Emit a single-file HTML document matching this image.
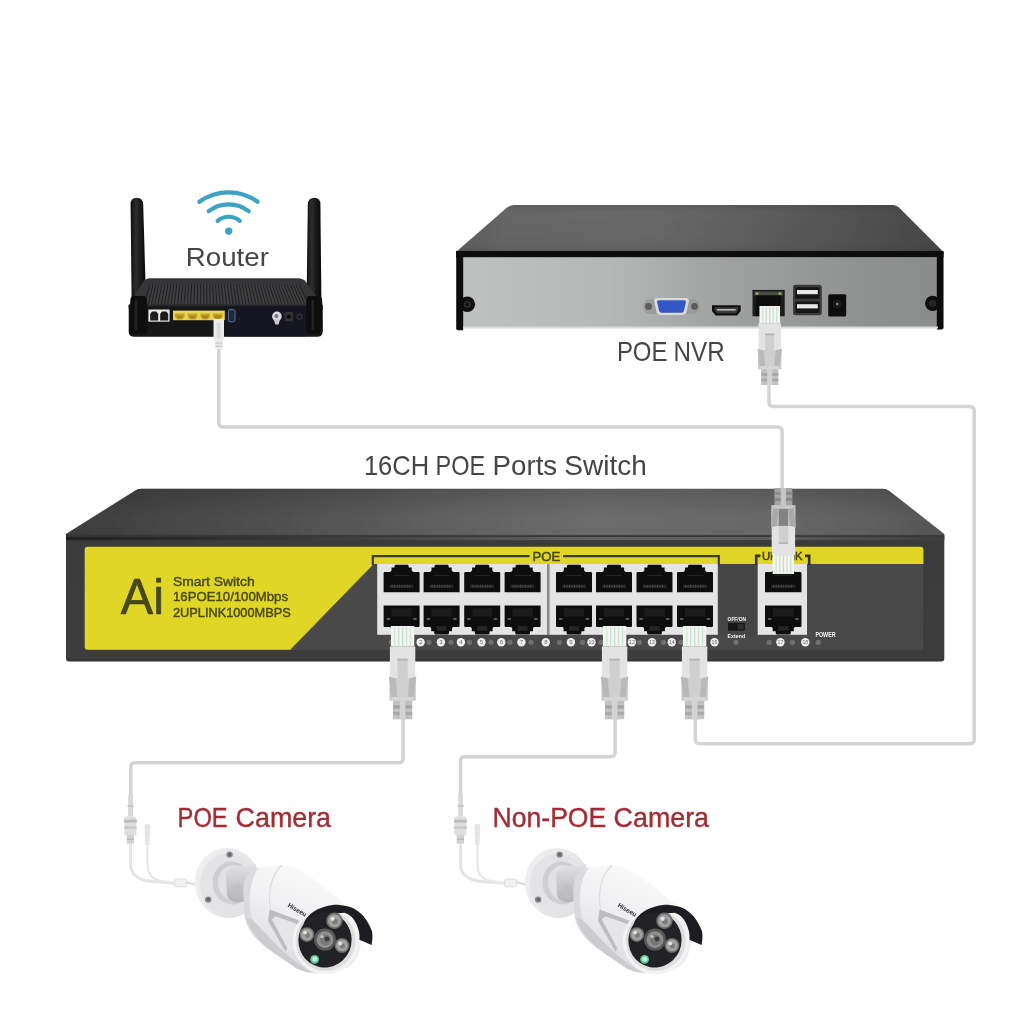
<!DOCTYPE html>
<html lang="en">
<head>
<meta charset="utf-8">
<title>16CH POE Ports Switch connection diagram</title>
<style>
html,body{margin:0;padding:0;background:#fff;}
body{width:1010px;height:1010px;overflow:hidden;}
svg{display:block;font-family:"Liberation Sans",sans-serif;}
</style>
</head>
<body>
<svg width="1010" height="1010" viewBox="0 0 1010 1010">
<defs>
<linearGradient id="gNvrTop" gradientUnits="userSpaceOnUse" x1="456" y1="0" x2="944" y2="0">
<stop offset="0" stop-color="#5c5c5c"/><stop offset="0.1" stop-color="#666666"/><stop offset="0.4" stop-color="#686868"/><stop offset="0.7" stop-color="#595959"/><stop offset="1" stop-color="#464646"/>
</linearGradient>
<linearGradient id="gNvrTopV" x1="0" y1="0" x2="0" y2="1">
<stop offset="0" stop-color="#000" stop-opacity="0.08"/><stop offset="0.15" stop-color="#000" stop-opacity="0"/><stop offset="0.8" stop-color="#000" stop-opacity="0.02"/><stop offset="1" stop-color="#000" stop-opacity="0.1"/>
</linearGradient>
<linearGradient id="gSwTopH" gradientUnits="userSpaceOnUse" x1="66" y1="0" x2="944" y2="0">
<stop offset="0" stop-color="#000" stop-opacity="0.44"/><stop offset="0.1" stop-color="#000" stop-opacity="0.36"/><stop offset="0.25" stop-color="#000" stop-opacity="0.26"/><stop offset="0.45" stop-color="#000" stop-opacity="0.1"/><stop offset="0.6" stop-color="#000" stop-opacity="0"/><stop offset="0.8" stop-color="#000" stop-opacity="0.04"/><stop offset="0.93" stop-color="#000" stop-opacity="0.14"/><stop offset="1" stop-color="#000" stop-opacity="0.22"/>
</linearGradient>
<linearGradient id="gNvrFront" x1="0" y1="0" x2="1" y2="0">
<stop offset="0" stop-color="#bfc1c1"/><stop offset="0.3" stop-color="#b6b8b8"/><stop offset="0.55" stop-color="#a0a2a2"/><stop offset="0.8" stop-color="#929494"/><stop offset="1" stop-color="#8a8c8c"/>
</linearGradient>
<linearGradient id="gSwTop" x1="0" y1="0" x2="0" y2="1">
<stop offset="0" stop-color="#5c5c5c"/><stop offset="0.3" stop-color="#656565"/><stop offset="0.6" stop-color="#6d6d6d"/><stop offset="0.94" stop-color="#6b6b6b"/><stop offset="1" stop-color="#5c5c5c"/>
</linearGradient>
<linearGradient id="gSwFront" x1="0" y1="0" x2="0" y2="1">
<stop offset="0" stop-color="#3a3a3a"/><stop offset="0.08" stop-color="#3b3b3b"/><stop offset="0.97" stop-color="#3c3c3c"/><stop offset="1" stop-color="#343434"/>
</linearGradient>
<linearGradient id="gAnt" x1="0" y1="0" x2="1" y2="0">
<stop offset="0" stop-color="#0e0e0e"/><stop offset="0.35" stop-color="#2e2e2e"/><stop offset="0.7" stop-color="#161616"/><stop offset="1" stop-color="#0a0a0a"/>
</linearGradient>
<linearGradient id="gPlate" x1="0" y1="0" x2="1" y2="1">
<stop offset="0" stop-color="#f1f1f3"/><stop offset="0.6" stop-color="#e6e6e8"/><stop offset="1" stop-color="#dadadc"/>
</linearGradient>
<linearGradient id="gNeck" x1="0" y1="0" x2="0" y2="1">
<stop offset="0" stop-color="#e3e3e5"/><stop offset="0.5" stop-color="#c9c9cc"/><stop offset="1" stop-color="#b5b5b8"/>
</linearGradient>
<linearGradient id="gBody" x1="0.7" y1="0" x2="0.2" y2="1">
<stop offset="0" stop-color="#fbfbfc"/><stop offset="0.45" stop-color="#f1f1f3"/><stop offset="0.8" stop-color="#e0e0e3"/><stop offset="1" stop-color="#cfcfd3"/>
</linearGradient>
<filter id="fSoft" filterUnits="userSpaceOnUse" x="0" y="0" width="1010" height="1010"><feGaussianBlur stdDeviation="0.5"/></filter>
</defs>
<rect x="0" y="0" width="1010" height="1010" fill="#ffffff"/>
<g filter="url(#fSoft)">

<g fill="none" stroke="#d4d4d4" stroke-width="3.5" stroke-linejoin="round">
<path d="M218.8,340 L218.8,422.6 Q218.8,427.1 223.3,427.1 L777.6,427.1 Q782.1,427.1 782.1,431.6 L782.1,492"/>
<path d="M769.0,380 L769.0,402.1 Q769.0,406.6 773.5,406.6 L969.7,406.6 Q974.2,406.6 974.2,411.1 L974.2,739.3 Q974.2,743.8 969.7,743.8 L699.8,743.8 Q695.3,743.8 695.3,739.3 L695.3,715"/>
<path d="M403.1,715 L403.1,758.3 Q403.1,762.8 398.6,762.8 L135.2,762.8 Q130.7,762.8 130.7,767.3 L130.7,798"/>
<path d="M615.1,715 L615.1,752.3 Q615.1,756.8 610.6,756.8 L465.0,756.8 Q460.5,756.8 460.5,761.3 L460.5,798"/>
</g>
<g>
<path d="M130.6,204.5 Q130.4,197.7 136.7,197.7 Q143,197.7 143.2,204.5 L146,300 H131.6 Z" fill="url(#gAnt)"/>
<path d="M320.4,204.5 Q320.6,197.7 314.3,197.7 Q308,197.7 307.8,204.5 L306.6,300 H321.4 Z" fill="url(#gAnt)"/>
<path d="M150,278.3 H298 Q303,278.3 306,282 L322.5,305.5 V309 H128.7 V305.5 L143,282 Q146,278.3 150,278.3 Z" fill="#363638"/>
<path d="M150,284.4 H299 L308,303.8 H145 Z" fill="#404042"/>
<path d="M150.0,284.4 L145.0,303.8" stroke="#232325" stroke-width="1.2" fill="none"/>
<path d="M153.0,284.4 L148.3,303.8" stroke="#232325" stroke-width="1.2" fill="none"/>
<path d="M156.0,284.4 L151.5,303.8" stroke="#232325" stroke-width="1.2" fill="none"/>
<path d="M158.9,284.4 L154.8,303.8" stroke="#232325" stroke-width="1.2" fill="none"/>
<path d="M161.9,284.4 L158.0,303.8" stroke="#232325" stroke-width="1.2" fill="none"/>
<path d="M164.9,284.4 L161.3,303.8" stroke="#232325" stroke-width="1.2" fill="none"/>
<path d="M167.9,284.4 L164.6,303.8" stroke="#232325" stroke-width="1.2" fill="none"/>
<path d="M170.9,284.4 L167.8,303.8" stroke="#232325" stroke-width="1.2" fill="none"/>
<path d="M173.8,284.4 L171.1,303.8" stroke="#232325" stroke-width="1.2" fill="none"/>
<path d="M176.8,284.4 L174.3,303.8" stroke="#232325" stroke-width="1.2" fill="none"/>
<path d="M179.8,284.4 L177.6,303.8" stroke="#232325" stroke-width="1.2" fill="none"/>
<path d="M182.8,284.4 L180.9,303.8" stroke="#232325" stroke-width="1.2" fill="none"/>
<path d="M185.8,284.4 L184.1,303.8" stroke="#232325" stroke-width="1.2" fill="none"/>
<path d="M188.7,284.4 L187.4,303.8" stroke="#232325" stroke-width="1.2" fill="none"/>
<path d="M191.7,284.4 L190.6,303.8" stroke="#232325" stroke-width="1.2" fill="none"/>
<path d="M194.7,284.4 L193.9,303.8" stroke="#232325" stroke-width="1.2" fill="none"/>
<path d="M197.7,284.4 L197.2,303.8" stroke="#232325" stroke-width="1.2" fill="none"/>
<path d="M200.7,284.4 L200.4,303.8" stroke="#232325" stroke-width="1.2" fill="none"/>
<path d="M203.6,284.4 L203.7,303.8" stroke="#232325" stroke-width="1.2" fill="none"/>
<path d="M206.6,284.4 L206.9,303.8" stroke="#232325" stroke-width="1.2" fill="none"/>
<path d="M209.6,284.4 L210.2,303.8" stroke="#232325" stroke-width="1.2" fill="none"/>
<path d="M212.6,284.4 L213.5,303.8" stroke="#232325" stroke-width="1.2" fill="none"/>
<path d="M215.6,284.4 L216.7,303.8" stroke="#232325" stroke-width="1.2" fill="none"/>
<path d="M218.5,284.4 L220.0,303.8" stroke="#232325" stroke-width="1.2" fill="none"/>
<path d="M221.5,284.4 L223.2,303.8" stroke="#232325" stroke-width="1.2" fill="none"/>
<path d="M224.5,284.4 L226.5,303.8" stroke="#232325" stroke-width="1.2" fill="none"/>
<path d="M227.5,284.4 L229.8,303.8" stroke="#232325" stroke-width="1.2" fill="none"/>
<path d="M230.5,284.4 L233.0,303.8" stroke="#232325" stroke-width="1.2" fill="none"/>
<path d="M233.4,284.4 L236.3,303.8" stroke="#232325" stroke-width="1.2" fill="none"/>
<path d="M236.4,284.4 L239.5,303.8" stroke="#232325" stroke-width="1.2" fill="none"/>
<path d="M239.4,284.4 L242.8,303.8" stroke="#232325" stroke-width="1.2" fill="none"/>
<path d="M242.4,284.4 L246.1,303.8" stroke="#232325" stroke-width="1.2" fill="none"/>
<path d="M245.4,284.4 L249.3,303.8" stroke="#232325" stroke-width="1.2" fill="none"/>
<path d="M248.3,284.4 L252.6,303.8" stroke="#232325" stroke-width="1.2" fill="none"/>
<path d="M251.3,284.4 L255.8,303.8" stroke="#232325" stroke-width="1.2" fill="none"/>
<path d="M254.3,284.4 L259.1,303.8" stroke="#232325" stroke-width="1.2" fill="none"/>
<path d="M257.3,284.4 L262.4,303.8" stroke="#232325" stroke-width="1.2" fill="none"/>
<path d="M260.3,284.4 L265.6,303.8" stroke="#232325" stroke-width="1.2" fill="none"/>
<path d="M263.2,284.4 L268.9,303.8" stroke="#232325" stroke-width="1.2" fill="none"/>
<path d="M266.2,284.4 L272.1,303.8" stroke="#232325" stroke-width="1.2" fill="none"/>
<path d="M269.2,284.4 L275.4,303.8" stroke="#232325" stroke-width="1.2" fill="none"/>
<path d="M272.2,284.4 L278.7,303.8" stroke="#232325" stroke-width="1.2" fill="none"/>
<path d="M275.2,284.4 L281.9,303.8" stroke="#232325" stroke-width="1.2" fill="none"/>
<path d="M278.1,284.4 L285.2,303.8" stroke="#232325" stroke-width="1.2" fill="none"/>
<path d="M281.1,284.4 L288.4,303.8" stroke="#232325" stroke-width="1.2" fill="none"/>
<path d="M284.1,284.4 L291.7,303.8" stroke="#232325" stroke-width="1.2" fill="none"/>
<path d="M287.1,284.4 L295.0,303.8" stroke="#232325" stroke-width="1.2" fill="none"/>
<path d="M290.1,284.4 L298.2,303.8" stroke="#232325" stroke-width="1.2" fill="none"/>
<path d="M293.0,284.4 L301.5,303.8" stroke="#232325" stroke-width="1.2" fill="none"/>
<path d="M296.0,284.4 L304.7,303.8" stroke="#232325" stroke-width="1.2" fill="none"/>
<path d="M299.0,284.4 L308.0,303.8" stroke="#232325" stroke-width="1.2" fill="none"/>
<path d="M128.7,305.5 H322.6 V331.6 Q322.6,336.8 317.6,336.8 H133.7 Q128.7,336.8 128.7,331.6 Z" fill="#151518"/>
<rect x="128.7" y="304.6" width="193.9" height="1.8" fill="#27272a"/>
<rect x="226" y="306.4" width="80" height="30" fill="#191920"/>
<path d="M130.4,300 Q130.4,296 134,296 H143.5 Q146.6,296 146.8,300 L147.4,330 Q147.4,333.4 144,333.4 H133 Q129.6,333.4 129.6,330 Z" fill="#0e0e0f"/>
<path d="M306.2,300 Q306.2,296 309.5,296 H318.6 Q322,296 322.2,300 L322.6,330 Q322.6,333.4 319.2,333.4 H309 Q305.8,333.4 305.8,330 Z" fill="#0e0e0f"/>
<rect x="134.6" y="300" width="2.6" height="30" fill="#232325"/><rect x="311.5" y="300" width="2.6" height="30" fill="#232325"/>
<rect x="148.4" y="309.5" width="21.2" height="12.2" fill="#e6e6e6"/>
<path d="M150.2,320.6 V314 L152,311.6 H156.4 L158.2,314 V320.6 Z" fill="#1a1a1a"/><path d="M160.2,320.6 V314 L162,311.6 H166.4 L168.2,314 V320.6 Z" fill="#1a1a1a"/>
<rect x="173" y="310.6" width="51.8" height="9.6" fill="#e9d354"/>
<path d="M175.0,313.6 H184.6 V317 L182.4,319.4 H177.2 L175.0,317 Z" fill="#c9a428"/>
<path d="M176.6,315.4 H183.0 V316.8 L181.6,318.4 H178.0 L176.6,316.8 Z" fill="#a8861e"/>
<path d="M187.7,313.6 H197.29999999999998 V317 L195.1,319.4 H189.89999999999998 L187.7,317 Z" fill="#c9a428"/>
<path d="M189.29999999999998,315.4 H195.7 V316.8 L194.29999999999998,318.4 H190.7 L189.29999999999998,316.8 Z" fill="#a8861e"/>
<path d="M200.4,313.6 H210.0 V317 L207.8,319.4 H202.6 L200.4,317 Z" fill="#c9a428"/>
<path d="M202.0,315.4 H208.4 V316.8 L207.0,318.4 H203.4 L202.0,316.8 Z" fill="#a8861e"/>
<path d="M213.1,313.6 H222.7 V317 L220.5,319.4 H215.29999999999998 L213.1,317 Z" fill="#c9a428"/>
<path d="M214.7,315.4 H221.1 V316.8 L219.7,318.4 H216.1 L214.7,316.8 Z" fill="#a8861e"/>
<rect x="228.4" y="309.6" width="6.6" height="12.2" rx="1.6" fill="#1b2a40" stroke="#5a7599" stroke-width="1"/>
<circle cx="239.5" cy="318.6" r="0.8" fill="#3a3a3e"/>
<circle cx="276.9" cy="316.4" r="4.8" fill="#dcdcdc"/><circle cx="276.4" cy="316" r="2" fill="#777"/>
<path d="M273.6,319.6 L275.4,324.6 H278.6 L280,319.6 Z" fill="#c9c9c9"/>
<rect x="284.6" y="312" width="8.4" height="9.2" rx="1" fill="#303033"/><circle cx="288.8" cy="316.6" r="2.2" fill="#0a0a0a"/>
<circle cx="299.5" cy="316.8" r="3.2" fill="#2e2e31"/><circle cx="299.5" cy="316.8" r="1.6" fill="#18181a"/>
<path d="M213.5,319 H224 V340 L222.6,342 V349.2 H215.2 V342 L213.5,340 Z" fill="#ebebeb"/>
<rect x="216.8" y="323" width="4" height="15" fill="#dcdcdc"/>
<rect x="215.2" y="342.4" width="7.4" height="1.3" fill="#cdcdcd"/><rect x="215.2" y="345.6" width="7.4" height="1.3" fill="#cdcdcd"/>
<g fill="none" stroke="#3ca3c2" stroke-width="4.2" stroke-linecap="round">
<path d="M199.4,201.8 A50,50 0 0 1 257.6,201.8"/>
<path d="M208.7,211.2 A32.4,32.4 0 0 1 248.7,211.2"/>
<path d="M217.6,220.8 A17.2,17.2 0 0 1 239.8,220.8"/>
</g><circle cx="228.7" cy="231.1" r="3.7" fill="#3ca3c2"/>
<text font-size="26.4" fill="#454545"><tspan x="185.8" y="266" textLength="83.1" lengthAdjust="spacingAndGlyphs">Router</tspan></text>
</g>
<g>
<path d="M514,205 H893 Q896.5,205 899,207.5 L943.5,252 V254 H456 V252 L507,207.5 Q510,205 514,205 Z" fill="url(#gNvrTop)"/>
<path d="M514,205 H893 Q896.5,205 899,207.5 L943.5,252 V254 H456 V252 L507,207.5 Q510,205 514,205 Z" fill="url(#gNvrTopV)"/>
<rect x="456" y="251" width="487.5" height="6.6" fill="#0d0d0d"/>
<rect x="463" y="257.4" width="475" height="70.6" fill="url(#gNvrFront)"/>
<path d="M456.2,252 H463.2 V330.3 H458.2 Q456.2,330.3 456.2,328.3 Z" fill="#0c0c0c"/>
<path d="M943.5,252 H936.8 V329.5 H941.5 Q943.5,329.5 943.5,327.5 Z" fill="#0c0c0c"/>
<rect x="463" y="326.5" width="475" height="2" fill="#d9dada"/>
<circle cx="467.3" cy="304.3" r="7.8" fill="#0f0f0f"/><circle cx="467.3" cy="304.3" r="3.6" fill="#2c2c2c"/><circle cx="467.3" cy="304.3" r="1.6" fill="#101010"/>
<circle cx="932.6" cy="303.3" r="7.6" fill="#0f0f0f"/><circle cx="932.6" cy="303.3" r="3.6" fill="#262626"/>
<g transform="translate(0,0.9)">
<rect x="643" y="298" width="57" height="15" rx="7.5" fill="#9a9c9c"/>
<circle cx="648.5" cy="305.5" r="3.4" fill="#5a5a5a"/><circle cx="694.5" cy="305.5" r="3.4" fill="#5a5a5a"/>
<path d="M657,297 H686 Q689.5,297 688.8,300.5 L686.5,311 Q685.8,314 682.5,314 H660.5 Q657.2,314 656.5,311 L654.2,300.5 Q653.5,297 657,297 Z" fill="#d8dadb"/>
<path d="M659,299.3 H684 Q686.3,299.3 685.8,301.6 L684,309.6 Q683.5,311.8 681.2,311.8 H661.8 Q659.5,311.8 659,309.6 L657.2,301.6 Q656.7,299.3 659,299.3 Z" fill="#3557c4"/>
</g>
<path d="M712,305.3 H740.7 V311 L737,315.6 H715.7 L712,311 Z" fill="#111"/>
<path d="M714.5,307.3 H738.2 V310 L735.8,313.3 H716.9 L714.5,310 Z" fill="#3a3a3a"/><rect x="717" y="309" width="18.7" height="1.6" fill="#b9b9b9"/>
<rect x="752.5" y="289.9" width="32.2" height="26.3" fill="#1b1b1b"/>
<rect x="754.3" y="291.5" width="28.6" height="4" fill="#4a4f3f"/><rect x="756" y="295.5" width="25" height="20.7" fill="#0a0a0a"/>
<circle cx="757" cy="293.5" r="1.5" fill="#9aa06a"/><circle cx="780" cy="293.5" r="1.5" fill="#9aa06a"/>
<rect x="793" y="284.7" width="28.8" height="30.6" rx="2.5" fill="#3b3b3b"/>
<rect x="795.3" y="287.2" width="24.2" height="11.5" rx="1" fill="#141414"/><rect x="795.3" y="301.4" width="24.2" height="11.5" rx="1" fill="#141414"/>
<rect x="797" y="290" width="20.8" height="4.2" fill="#e9e9e9"/><rect x="797" y="304.2" width="20.8" height="4.2" fill="#e9e9e9"/>
<rect x="828.2" y="294.2" width="18" height="22.4" rx="1.5" fill="#111"/><circle cx="837.2" cy="304" r="4.2" fill="#1f1f1f"/><circle cx="837.2" cy="304" r="1.2" fill="#888"/>
<g><rect x="759.4" y="306.0" width="20.7" height="17.4" fill="#f4f5f3" /><rect x="762.0" y="307.0" width="1.4" height="16.4" fill="#cfe9d2" /><rect x="765.5" y="307.0" width="1.4" height="16.4" fill="#d9d9d9" /><rect x="769.0" y="307.0" width="1.4" height="16.4" fill="#bfe3c6" /><rect x="772.5" y="307.0" width="1.4" height="16.4" fill="#dcdcdc" /><rect x="776.0" y="307.0" width="1.4" height="16.4" fill="#c9e6cf" /><rect x="758.5" y="323.4" width="22.5" height="26.9" fill="#e3e3e3" /><rect x="758.0" y="350.2" width="23.4" height="19.0" fill="#cbcbcb" /><rect x="765.2" y="333.6" width="9.0" height="16.6" fill="#cfcfcf" /><rect x="765.2" y="350.2" width="9.0" height="15.8" fill="#cfcfcf" /><rect x="765.2" y="333.6" width="9.0" height="1.6" fill="#b4b4b4" /><polygon points="757.6,348.7 763.5,350.2 765.0,366.0 760.1,369.2" fill="#b9b9b9" /><polygon points="781.9,348.7 775.9,350.2 774.4,366.0 779.3,369.2" fill="#b9b9b9" /><rect x="760.1" y="366.0" width="19.1" height="3.2" fill="#d6d6d6" /><rect x="761.2" y="369.2" width="17.1" height="15.8" fill="#c2c2c2" /><rect x="761.4" y="373.1" width="16.9" height="2.8" fill="#a6a6a6" /><rect x="761.4" y="378.7" width="16.9" height="2.8" fill="#a9a9a9" /><rect x="767.2" y="369.2" width="5.0" height="15.8" fill="#d4d4d4" /></g>
<text font-size="27.4" fill="#454545"><tspan x="616.9" y="360.6" textLength="50.6" lengthAdjust="spacingAndGlyphs">POE</tspan> <tspan x="673.6" y="360.6" textLength="51.2" lengthAdjust="spacingAndGlyphs">NVR</tspan></text>
</g>
<text font-size="27.4" fill="#454545"><tspan x="363.9" y="475.2" textLength="65.3" lengthAdjust="spacingAndGlyphs">16CH</tspan> <tspan x="435.6" y="475.2" textLength="49.6" lengthAdjust="spacingAndGlyphs">POE</tspan> <tspan x="492.6" y="475.2" textLength="64.6" lengthAdjust="spacingAndGlyphs">Ports</tspan> <tspan x="564.3" y="475.2" textLength="82.6" lengthAdjust="spacingAndGlyphs">Switch</tspan></text>
<g>
<path d="M141,488.7 H883 Q886.6,488.7 889.5,491 L944.3,534 V536.4 H66 V534 L134.5,491 Q137.5,488.7 141,488.7 Z" fill="url(#gSwTop)"/>
<path d="M141,488.7 H883 Q886.6,488.7 889.5,491 L944.3,534 V536.4 H66 V534 L134.5,491 Q137.5,488.7 141,488.7 Z" fill="url(#gSwTopH)"/>
<path d="M66,535.8 H944.3 V658.5 Q944.3,661.5 941.3,661.5 H69 Q66,661.5 66,658.5 Z" fill="url(#gSwFront)"/>
<rect x="66" y="535.4" width="878.3" height="1.3" fill="#343434"/>
<rect x="66" y="536.9" width="878.3" height="3.2" fill="#636363"/>
<rect x="66" y="536.9" width="878.3" height="3.2" fill="url(#gSwTopH)"/>
<rect x="66" y="536.9" width="878.3" height="3.2" fill="url(#gSwTopH)"/>
<path d="M84.7,546.7 H920.4 Q923.4,546.7 923.4,549.7 V647 Q923.4,650 920.4,650 H87.7 Q84.7,650 84.7,647 Z" fill="#494949"/>
<path d="M87.7,546.7 H920.4 Q923.4,546.7 923.4,549.7 V564 H374 L290.6,649.7 H87.7 Q84.7,649.7 84.7,646.7 V549.7 Q84.7,546.7 87.7,546.7 Z" fill="#e0d625"/>
<rect x="719.5" y="564" width="37" height="71" fill="#454545"/>
<path d="M290.6,649.7 L374,564" fill="none" stroke="#6b6a1c" stroke-width="1"/><path d="M372.8,565 V556.2 H529.5 M563,556.2 H718.8 V565" fill="none" stroke="#3f3e16" stroke-width="2.2"/>
<text x="532.6" y="560.7" font-size="12.8" fill="#47461a" stroke="#47461a" stroke-width="0.5" textLength="27.8" lengthAdjust="spacingAndGlyphs">POE</text>
<path d="M756.2,565 V555.9 H760.4 M805,555.9 H809.2 V565" fill="none" stroke="#34330f" stroke-width="2.6"/>
<text x="762" y="560.2" font-size="10" fill="#3f3e14" stroke="#3f3e14" stroke-width="0.4" textLength="40.6" lengthAdjust="spacingAndGlyphs">UPLINK</text>
<rect x="377.2" y="564" width="170" height="70.8" fill="#e4e4e5"/>
<rect x="549.2" y="564" width="168.6" height="70.8" fill="#e4e4e5"/>
<rect x="547.1" y="564" width="2.2" height="70.8" fill="#8e8e8e"/>
<rect x="757.7" y="564" width="49.3" height="70.8" fill="#e4e4e5"/>
<path d="M383.6,572.7 L384.4,571.9 H390.0 L391.5,570.4 V567.6 H394.5 V565.7 L395.5,564.7 H407.7 L408.7,565.7 V567.6 H411.7 V570.4 L413.2,571.9 H418.8 L419.6,572.7 V592.3 H383.6 Z" fill="#0d0d0d"/><rect x="389.6" y="584.7" width="24.0" height="3.2" fill="#262626"/><rect x="391.6" y="585.1" width="1" height="2.6" fill="#4c4c4c"/><rect x="394.1" y="585.1" width="1" height="2.6" fill="#4c4c4c"/><rect x="396.6" y="585.1" width="1" height="2.6" fill="#4c4c4c"/><rect x="399.1" y="585.1" width="1" height="2.6" fill="#4c4c4c"/><rect x="401.6" y="585.1" width="1" height="2.6" fill="#4c4c4c"/><rect x="404.1" y="585.1" width="1" height="2.6" fill="#4c4c4c"/><rect x="406.6" y="585.1" width="1" height="2.6" fill="#4c4c4c"/><rect x="409.1" y="585.1" width="1" height="2.6" fill="#4c4c4c"/><rect x="393.6" y="574.9" width="16.0" height="1.2" fill="#242424"/>
<path d="M383.6,605.5 H419.6 V626.3 L418.8,627.1 H413.0 L412.0,628.3 V631.2 H409.0 V633.5 L408.0,634.5 H395.2 L394.2,633.5 V631.2 H391.2 V628.3 L390.2,627.1 H384.4 L383.6,626.3 Z" fill="#0f0f0f"/><rect x="391.6" y="608.5" width="20.0" height="8" fill="#1c1c1c"/><rect x="396.6" y="626.1" width="10" height="4.6" fill="#262626"/><rect x="386.6" y="618.1" width="3.4" height="1.8" fill="#5e5e5e"/><rect x="413.2" y="618.1" width="3.4" height="1.8" fill="#5e5e5e"/>
<path d="M423.6,572.7 L424.4,571.9 H430.0 L431.5,570.4 V567.6 H434.5 V565.7 L435.5,564.7 H447.7 L448.7,565.7 V567.6 H451.7 V570.4 L453.2,571.9 H458.8 L459.6,572.7 V592.3 H423.6 Z" fill="#0d0d0d"/><rect x="429.6" y="584.7" width="24.0" height="3.2" fill="#262626"/><rect x="431.6" y="585.1" width="1" height="2.6" fill="#4c4c4c"/><rect x="434.1" y="585.1" width="1" height="2.6" fill="#4c4c4c"/><rect x="436.6" y="585.1" width="1" height="2.6" fill="#4c4c4c"/><rect x="439.1" y="585.1" width="1" height="2.6" fill="#4c4c4c"/><rect x="441.6" y="585.1" width="1" height="2.6" fill="#4c4c4c"/><rect x="444.1" y="585.1" width="1" height="2.6" fill="#4c4c4c"/><rect x="446.6" y="585.1" width="1" height="2.6" fill="#4c4c4c"/><rect x="449.1" y="585.1" width="1" height="2.6" fill="#4c4c4c"/><rect x="433.6" y="574.9" width="16.0" height="1.2" fill="#242424"/>
<path d="M423.6,605.5 H459.6 V626.3 L458.8,627.1 H453.0 L452.0,628.3 V631.2 H449.0 V633.5 L448.0,634.5 H435.2 L434.2,633.5 V631.2 H431.2 V628.3 L430.2,627.1 H424.4 L423.6,626.3 Z" fill="#0f0f0f"/><rect x="431.6" y="608.5" width="20.0" height="8" fill="#1c1c1c"/><rect x="436.6" y="626.1" width="10" height="4.6" fill="#262626"/><rect x="426.6" y="618.1" width="3.4" height="1.8" fill="#5e5e5e"/><rect x="453.2" y="618.1" width="3.4" height="1.8" fill="#5e5e5e"/>
<path d="M464.2,572.7 L465.0,571.9 H470.6 L472.1,570.4 V567.6 H475.1 V565.7 L476.1,564.7 H488.3 L489.3,565.7 V567.6 H492.3 V570.4 L493.8,571.9 H499.4 L500.2,572.7 V592.3 H464.2 Z" fill="#0d0d0d"/><rect x="470.2" y="584.7" width="24.0" height="3.2" fill="#262626"/><rect x="472.2" y="585.1" width="1" height="2.6" fill="#4c4c4c"/><rect x="474.7" y="585.1" width="1" height="2.6" fill="#4c4c4c"/><rect x="477.2" y="585.1" width="1" height="2.6" fill="#4c4c4c"/><rect x="479.7" y="585.1" width="1" height="2.6" fill="#4c4c4c"/><rect x="482.2" y="585.1" width="1" height="2.6" fill="#4c4c4c"/><rect x="484.7" y="585.1" width="1" height="2.6" fill="#4c4c4c"/><rect x="487.2" y="585.1" width="1" height="2.6" fill="#4c4c4c"/><rect x="489.7" y="585.1" width="1" height="2.6" fill="#4c4c4c"/><rect x="474.2" y="574.9" width="16.0" height="1.2" fill="#242424"/>
<path d="M464.2,605.5 H500.2 V626.3 L499.4,627.1 H493.6 L492.6,628.3 V631.2 H489.6 V633.5 L488.6,634.5 H475.8 L474.8,633.5 V631.2 H471.8 V628.3 L470.8,627.1 H465.0 L464.2,626.3 Z" fill="#0f0f0f"/><rect x="472.2" y="608.5" width="20.0" height="8" fill="#1c1c1c"/><rect x="477.2" y="626.1" width="10" height="4.6" fill="#262626"/><rect x="467.2" y="618.1" width="3.4" height="1.8" fill="#5e5e5e"/><rect x="493.8" y="618.1" width="3.4" height="1.8" fill="#5e5e5e"/>
<path d="M504.6,572.7 L505.4,571.9 H511.0 L512.5,570.4 V567.6 H515.5 V565.7 L516.5,564.7 H528.7 L529.7,565.7 V567.6 H532.7 V570.4 L534.2,571.9 H539.8 L540.6,572.7 V592.3 H504.6 Z" fill="#0d0d0d"/><rect x="510.6" y="584.7" width="24.0" height="3.2" fill="#262626"/><rect x="512.6" y="585.1" width="1" height="2.6" fill="#4c4c4c"/><rect x="515.1" y="585.1" width="1" height="2.6" fill="#4c4c4c"/><rect x="517.6" y="585.1" width="1" height="2.6" fill="#4c4c4c"/><rect x="520.1" y="585.1" width="1" height="2.6" fill="#4c4c4c"/><rect x="522.6" y="585.1" width="1" height="2.6" fill="#4c4c4c"/><rect x="525.1" y="585.1" width="1" height="2.6" fill="#4c4c4c"/><rect x="527.6" y="585.1" width="1" height="2.6" fill="#4c4c4c"/><rect x="530.1" y="585.1" width="1" height="2.6" fill="#4c4c4c"/><rect x="514.6" y="574.9" width="16.0" height="1.2" fill="#242424"/>
<path d="M504.6,605.5 H540.6 V626.3 L539.8,627.1 H534.0 L533.0,628.3 V631.2 H530.0 V633.5 L529.0,634.5 H516.2 L515.2,633.5 V631.2 H512.2 V628.3 L511.2,627.1 H505.4 L504.6,626.3 Z" fill="#0f0f0f"/><rect x="512.6" y="608.5" width="20.0" height="8" fill="#1c1c1c"/><rect x="517.6" y="626.1" width="10" height="4.6" fill="#262626"/><rect x="507.6" y="618.1" width="3.4" height="1.8" fill="#5e5e5e"/><rect x="534.2" y="618.1" width="3.4" height="1.8" fill="#5e5e5e"/>
<path d="M556.0,572.7 L556.8,571.9 H562.4 L563.9,570.4 V567.6 H566.9 V565.7 L567.9,564.7 H580.1 L581.1,565.7 V567.6 H584.1 V570.4 L585.6,571.9 H591.2 L592.0,572.7 V592.3 H556.0 Z" fill="#0d0d0d"/><rect x="562.0" y="584.7" width="24.0" height="3.2" fill="#262626"/><rect x="564.0" y="585.1" width="1" height="2.6" fill="#4c4c4c"/><rect x="566.5" y="585.1" width="1" height="2.6" fill="#4c4c4c"/><rect x="569.0" y="585.1" width="1" height="2.6" fill="#4c4c4c"/><rect x="571.5" y="585.1" width="1" height="2.6" fill="#4c4c4c"/><rect x="574.0" y="585.1" width="1" height="2.6" fill="#4c4c4c"/><rect x="576.5" y="585.1" width="1" height="2.6" fill="#4c4c4c"/><rect x="579.0" y="585.1" width="1" height="2.6" fill="#4c4c4c"/><rect x="581.5" y="585.1" width="1" height="2.6" fill="#4c4c4c"/><rect x="566.0" y="574.9" width="16.0" height="1.2" fill="#242424"/>
<path d="M556.0,605.5 H592.0 V626.3 L591.2,627.1 H585.4 L584.4,628.3 V631.2 H581.4 V633.5 L580.4,634.5 H567.6 L566.6,633.5 V631.2 H563.6 V628.3 L562.6,627.1 H556.8 L556.0,626.3 Z" fill="#0f0f0f"/><rect x="564.0" y="608.5" width="20.0" height="8" fill="#1c1c1c"/><rect x="569.0" y="626.1" width="10" height="4.6" fill="#262626"/><rect x="559.0" y="618.1" width="3.4" height="1.8" fill="#5e5e5e"/><rect x="585.6" y="618.1" width="3.4" height="1.8" fill="#5e5e5e"/>
<path d="M596.0,572.7 L596.8,571.9 H602.4 L603.9,570.4 V567.6 H606.9 V565.7 L607.9,564.7 H620.1 L621.1,565.7 V567.6 H624.1 V570.4 L625.6,571.9 H631.2 L632.0,572.7 V592.3 H596.0 Z" fill="#0d0d0d"/><rect x="602.0" y="584.7" width="24.0" height="3.2" fill="#262626"/><rect x="604.0" y="585.1" width="1" height="2.6" fill="#4c4c4c"/><rect x="606.5" y="585.1" width="1" height="2.6" fill="#4c4c4c"/><rect x="609.0" y="585.1" width="1" height="2.6" fill="#4c4c4c"/><rect x="611.5" y="585.1" width="1" height="2.6" fill="#4c4c4c"/><rect x="614.0" y="585.1" width="1" height="2.6" fill="#4c4c4c"/><rect x="616.5" y="585.1" width="1" height="2.6" fill="#4c4c4c"/><rect x="619.0" y="585.1" width="1" height="2.6" fill="#4c4c4c"/><rect x="621.5" y="585.1" width="1" height="2.6" fill="#4c4c4c"/><rect x="606.0" y="574.9" width="16.0" height="1.2" fill="#242424"/>
<path d="M596.0,605.5 H632.0 V626.3 L631.2,627.1 H625.4 L624.4,628.3 V631.2 H621.4 V633.5 L620.4,634.5 H607.6 L606.6,633.5 V631.2 H603.6 V628.3 L602.6,627.1 H596.8 L596.0,626.3 Z" fill="#0f0f0f"/><rect x="604.0" y="608.5" width="20.0" height="8" fill="#1c1c1c"/><rect x="609.0" y="626.1" width="10" height="4.6" fill="#262626"/><rect x="599.0" y="618.1" width="3.4" height="1.8" fill="#5e5e5e"/><rect x="625.6" y="618.1" width="3.4" height="1.8" fill="#5e5e5e"/>
<path d="M636.5,572.7 L637.3,571.9 H642.9 L644.4,570.4 V567.6 H647.4 V565.7 L648.4,564.7 H660.6 L661.6,565.7 V567.6 H664.6 V570.4 L666.1,571.9 H671.7 L672.5,572.7 V592.3 H636.5 Z" fill="#0d0d0d"/><rect x="642.5" y="584.7" width="24.0" height="3.2" fill="#262626"/><rect x="644.5" y="585.1" width="1" height="2.6" fill="#4c4c4c"/><rect x="647.0" y="585.1" width="1" height="2.6" fill="#4c4c4c"/><rect x="649.5" y="585.1" width="1" height="2.6" fill="#4c4c4c"/><rect x="652.0" y="585.1" width="1" height="2.6" fill="#4c4c4c"/><rect x="654.5" y="585.1" width="1" height="2.6" fill="#4c4c4c"/><rect x="657.0" y="585.1" width="1" height="2.6" fill="#4c4c4c"/><rect x="659.5" y="585.1" width="1" height="2.6" fill="#4c4c4c"/><rect x="662.0" y="585.1" width="1" height="2.6" fill="#4c4c4c"/><rect x="646.5" y="574.9" width="16.0" height="1.2" fill="#242424"/>
<path d="M636.5,605.5 H672.5 V626.3 L671.7,627.1 H665.9 L664.9,628.3 V631.2 H661.9 V633.5 L660.9,634.5 H648.1 L647.1,633.5 V631.2 H644.1 V628.3 L643.1,627.1 H637.3 L636.5,626.3 Z" fill="#0f0f0f"/><rect x="644.5" y="608.5" width="20.0" height="8" fill="#1c1c1c"/><rect x="649.5" y="626.1" width="10" height="4.6" fill="#262626"/><rect x="639.5" y="618.1" width="3.4" height="1.8" fill="#5e5e5e"/><rect x="666.1" y="618.1" width="3.4" height="1.8" fill="#5e5e5e"/>
<path d="M677.0,572.7 L677.8,571.9 H683.4 L684.9,570.4 V567.6 H687.9 V565.7 L688.9,564.7 H701.1 L702.1,565.7 V567.6 H705.1 V570.4 L706.6,571.9 H712.2 L713.0,572.7 V592.3 H677.0 Z" fill="#0d0d0d"/><rect x="683.0" y="584.7" width="24.0" height="3.2" fill="#262626"/><rect x="685.0" y="585.1" width="1" height="2.6" fill="#4c4c4c"/><rect x="687.5" y="585.1" width="1" height="2.6" fill="#4c4c4c"/><rect x="690.0" y="585.1" width="1" height="2.6" fill="#4c4c4c"/><rect x="692.5" y="585.1" width="1" height="2.6" fill="#4c4c4c"/><rect x="695.0" y="585.1" width="1" height="2.6" fill="#4c4c4c"/><rect x="697.5" y="585.1" width="1" height="2.6" fill="#4c4c4c"/><rect x="700.0" y="585.1" width="1" height="2.6" fill="#4c4c4c"/><rect x="702.5" y="585.1" width="1" height="2.6" fill="#4c4c4c"/><rect x="687.0" y="574.9" width="16.0" height="1.2" fill="#242424"/>
<path d="M677.0,605.5 H713.0 V626.3 L712.2,627.1 H706.4 L705.4,628.3 V631.2 H702.4 V633.5 L701.4,634.5 H688.6 L687.6,633.5 V631.2 H684.6 V628.3 L683.6,627.1 H677.8 L677.0,626.3 Z" fill="#0f0f0f"/><rect x="685.0" y="608.5" width="20.0" height="8" fill="#1c1c1c"/><rect x="690.0" y="626.1" width="10" height="4.6" fill="#262626"/><rect x="680.0" y="618.1" width="3.4" height="1.8" fill="#5e5e5e"/><rect x="706.6" y="618.1" width="3.4" height="1.8" fill="#5e5e5e"/>
<path d="M765.0,572.7 L765.8,571.9 H771.5 L773.0,570.4 V567.6 H776.0 V565.7 L777.0,564.7 H789.5 L790.5,565.7 V567.6 H793.5 V570.4 L795.0,571.9 H800.7 L801.5,572.7 V592.3 H765.0 Z" fill="#0d0d0d"/><rect x="771.0" y="584.7" width="24.5" height="3.2" fill="#262626"/><rect x="773.0" y="585.1" width="1" height="2.6" fill="#4c4c4c"/><rect x="775.6" y="585.1" width="1" height="2.6" fill="#4c4c4c"/><rect x="778.1" y="585.1" width="1" height="2.6" fill="#4c4c4c"/><rect x="780.7" y="585.1" width="1" height="2.6" fill="#4c4c4c"/><rect x="783.2" y="585.1" width="1" height="2.6" fill="#4c4c4c"/><rect x="785.8" y="585.1" width="1" height="2.6" fill="#4c4c4c"/><rect x="788.4" y="585.1" width="1" height="2.6" fill="#4c4c4c"/><rect x="790.9" y="585.1" width="1" height="2.6" fill="#4c4c4c"/><rect x="775.0" y="574.9" width="16.5" height="1.2" fill="#242424"/>
<path d="M765.0,605.5 H801.5 V626.3 L800.7,627.1 H794.8 L793.8,628.3 V631.2 H790.8 V633.5 L789.8,634.5 H776.7 L775.7,633.5 V631.2 H772.7 V628.3 L771.7,627.1 H765.8 L765.0,626.3 Z" fill="#0f0f0f"/><rect x="773.0" y="608.5" width="20.5" height="8" fill="#1c1c1c"/><rect x="778.2" y="626.1" width="10" height="4.6" fill="#262626"/><rect x="768.0" y="618.1" width="3.4" height="1.8" fill="#5e5e5e"/><rect x="795.1" y="618.1" width="3.4" height="1.8" fill="#5e5e5e"/>
<circle cx="400.4" cy="642.3" r="4.2" fill="#efefef"/>
<text x="400.4" y="644.4" font-size="6" fill="#6a6a6a" text-anchor="middle">1</text>
<circle cx="420.6" cy="642.3" r="4.2" fill="#efefef"/>
<text x="420.6" y="644.4" font-size="6" fill="#6a6a6a" text-anchor="middle">2</text>
<circle cx="440.9" cy="642.3" r="4.2" fill="#efefef"/>
<text x="440.9" y="644.4" font-size="6" fill="#6a6a6a" text-anchor="middle">3</text>
<circle cx="460.9" cy="642.3" r="4.2" fill="#efefef"/>
<text x="460.9" y="644.4" font-size="6" fill="#6a6a6a" text-anchor="middle">4</text>
<circle cx="481.5" cy="642.3" r="4.2" fill="#efefef"/>
<text x="481.5" y="644.4" font-size="6" fill="#6a6a6a" text-anchor="middle">5</text>
<circle cx="501.3" cy="642.3" r="4.2" fill="#efefef"/>
<text x="501.3" y="644.4" font-size="6" fill="#6a6a6a" text-anchor="middle">6</text>
<circle cx="521.4" cy="642.3" r="4.2" fill="#efefef"/>
<text x="521.4" y="644.4" font-size="6" fill="#6a6a6a" text-anchor="middle">7</text>
<circle cx="545.8" cy="642.3" r="4.2" fill="#efefef"/>
<text x="545.8" y="644.4" font-size="6" fill="#6a6a6a" text-anchor="middle">8</text>
<circle cx="570.9" cy="642.3" r="4.2" fill="#efefef"/>
<text x="570.9" y="644.4" font-size="6" fill="#6a6a6a" text-anchor="middle">9</text>
<circle cx="591.5" cy="642.3" r="4.2" fill="#efefef"/>
<text x="591.5" y="644.4" font-size="5.2" fill="#6a6a6a" text-anchor="middle">10</text>
<circle cx="611.7" cy="642.3" r="4.2" fill="#efefef"/>
<text x="611.7" y="644.4" font-size="5.2" fill="#6a6a6a" text-anchor="middle">11</text>
<circle cx="631.9" cy="642.3" r="4.2" fill="#efefef"/>
<text x="631.9" y="644.4" font-size="5.2" fill="#6a6a6a" text-anchor="middle">12</text>
<circle cx="652" cy="642.3" r="4.2" fill="#efefef"/>
<text x="652" y="644.4" font-size="5.2" fill="#6a6a6a" text-anchor="middle">13</text>
<circle cx="671.8" cy="642.3" r="4.2" fill="#efefef"/>
<text x="671.8" y="644.4" font-size="5.2" fill="#6a6a6a" text-anchor="middle">14</text>
<circle cx="692.5" cy="642.3" r="4.2" fill="#efefef"/>
<text x="692.5" y="644.4" font-size="5.2" fill="#6a6a6a" text-anchor="middle">15</text>
<circle cx="714.5" cy="642.3" r="4.2" fill="#efefef"/>
<text x="714.5" y="644.4" font-size="5.2" fill="#6a6a6a" text-anchor="middle">16</text>
<circle cx="780.4" cy="642.3" r="4.2" fill="#efefef"/>
<text x="780.4" y="644.4" font-size="5.2" fill="#6a6a6a" text-anchor="middle">17</text>
<circle cx="805.3" cy="642.3" r="4.2" fill="#efefef"/>
<text x="805.3" y="644.4" font-size="5.2" fill="#6a6a6a" text-anchor="middle">18</text>
<circle cx="391.5" cy="642.3" r="2.6" fill="#707070"/>
<circle cx="429" cy="642.3" r="2.6" fill="#707070"/>
<circle cx="451" cy="642.3" r="2.6" fill="#707070"/>
<circle cx="469.5" cy="642.3" r="2.6" fill="#707070"/>
<circle cx="491" cy="642.3" r="2.6" fill="#707070"/>
<circle cx="510" cy="642.3" r="2.6" fill="#707070"/>
<circle cx="531" cy="642.3" r="2.6" fill="#707070"/>
<circle cx="559.3" cy="642.3" r="2.6" fill="#707070"/>
<circle cx="582.5" cy="642.3" r="2.6" fill="#707070"/>
<circle cx="601" cy="642.3" r="2.6" fill="#707070"/>
<circle cx="622" cy="642.3" r="2.6" fill="#707070"/>
<circle cx="639.5" cy="642.3" r="2.6" fill="#707070"/>
<circle cx="663.5" cy="642.3" r="2.6" fill="#707070"/>
<circle cx="681" cy="642.3" r="2.6" fill="#707070"/>
<circle cx="703" cy="642.3" r="2.6" fill="#707070"/>
<circle cx="736" cy="642.3" r="2.6" fill="#707070"/>
<circle cx="769.3" cy="642.3" r="2.6" fill="#707070"/>
<circle cx="792.5" cy="642.3" r="2.6" fill="#707070"/>
<circle cx="818.2" cy="642.3" r="2.6" fill="#707070"/>
<text x="727.6" y="620.5" font-size="6.2" font-weight="bold" fill="#f4f4f4" textLength="18.4" lengthAdjust="spacingAndGlyphs">OFF/ON</text>
<rect x="728" y="623" width="16.8" height="7.6" fill="#151515"/><rect x="737.5" y="624" width="6" height="5.6" fill="#2e2e2e"/>
<text x="727.6" y="637.6" font-size="6.2" font-weight="bold" fill="#f4f4f4" textLength="17.6" lengthAdjust="spacingAndGlyphs">Extend</text>
<text x="815.4" y="637.1" font-size="6.3" font-weight="bold" fill="#f6f6f6" textLength="20.2" lengthAdjust="spacingAndGlyphs">POWER</text>
<text x="120.8" y="613.8" font-size="49.8" fill="#47461c" stroke="#47461c" stroke-width="0.7" textLength="43.2" lengthAdjust="spacingAndGlyphs">Ai</text>
<text x="173" y="586.4" font-size="13.3" fill="#4a491c" stroke="#4a491c" stroke-width="0.45" textLength="81.6" lengthAdjust="spacingAndGlyphs">Smart Switch</text>
<text x="173" y="601.4" font-size="13.3" fill="#4a491c" stroke="#4a491c" stroke-width="0.45" textLength="115" lengthAdjust="spacingAndGlyphs">16POE10/100Mbps</text>
<text x="173" y="616.6" font-size="13.3" fill="#4a491c" stroke="#4a491c" stroke-width="0.45" textLength="117.7" lengthAdjust="spacingAndGlyphs">2UPLINK1000MBPS</text>
<g><rect x="390.9" y="626.0" width="23.4" height="20.5" fill="#f4f5f3" /><rect x="394.0" y="627.0" width="1.4" height="19.5" fill="#cfe9d2" /><rect x="398.0" y="627.0" width="1.4" height="19.5" fill="#d9d9d9" /><rect x="401.9" y="627.0" width="1.4" height="19.5" fill="#bfe3c6" /><rect x="405.8" y="627.0" width="1.4" height="19.5" fill="#dcdcdc" /><rect x="409.8" y="627.0" width="1.4" height="19.5" fill="#c9e6cf" /><rect x="389.9" y="646.5" width="25.4" height="31.7" fill="#e3e3e3" /><rect x="389.4" y="678.2" width="26.4" height="22.4" fill="#cbcbcb" /><rect x="397.5" y="658.7" width="10.2" height="19.6" fill="#cfcfcf" /><rect x="397.5" y="678.2" width="10.2" height="18.7" fill="#cfcfcf" /><rect x="397.5" y="658.7" width="10.2" height="1.9" fill="#b4b4b4" /><polygon points="388.9,676.4 395.6,678.2 397.3,696.9 391.8,700.6" fill="#b9b9b9" /><polygon points="416.3,676.4 409.6,678.2 407.9,696.9 413.4,700.6" fill="#b9b9b9" /><rect x="391.8" y="696.9" width="21.6" height="3.7" fill="#d6d6d6" /><rect x="392.9" y="700.6" width="19.3" height="18.7" fill="#c2c2c2" /><rect x="393.2" y="705.3" width="19.0" height="3.3" fill="#a6a6a6" /><rect x="393.2" y="711.8" width="19.0" height="3.3" fill="#a9a9a9" /><rect x="399.8" y="700.6" width="5.6" height="18.7" fill="#d4d4d4" /></g>
<g><rect x="602.9" y="626.0" width="23.4" height="20.5" fill="#f4f5f3" /><rect x="606.0" y="627.0" width="1.4" height="19.5" fill="#cfe9d2" /><rect x="610.0" y="627.0" width="1.4" height="19.5" fill="#d9d9d9" /><rect x="613.9" y="627.0" width="1.4" height="19.5" fill="#bfe3c6" /><rect x="617.8" y="627.0" width="1.4" height="19.5" fill="#dcdcdc" /><rect x="621.8" y="627.0" width="1.4" height="19.5" fill="#c9e6cf" /><rect x="601.9" y="646.5" width="25.4" height="31.7" fill="#e3e3e3" /><rect x="601.4" y="678.2" width="26.4" height="22.4" fill="#cbcbcb" /><rect x="609.5" y="658.7" width="10.2" height="19.6" fill="#cfcfcf" /><rect x="609.5" y="678.2" width="10.2" height="18.7" fill="#cfcfcf" /><rect x="609.5" y="658.7" width="10.2" height="1.9" fill="#b4b4b4" /><polygon points="600.9,676.4 607.6,678.2 609.3,696.9 603.8,700.6" fill="#b9b9b9" /><polygon points="628.3,676.4 621.6,678.2 619.9,696.9 625.4,700.6" fill="#b9b9b9" /><rect x="603.8" y="696.9" width="21.6" height="3.7" fill="#d6d6d6" /><rect x="604.9" y="700.6" width="19.3" height="18.7" fill="#c2c2c2" /><rect x="605.2" y="705.3" width="19.0" height="3.3" fill="#a6a6a6" /><rect x="605.2" y="711.8" width="19.0" height="3.3" fill="#a9a9a9" /><rect x="611.8" y="700.6" width="5.6" height="18.7" fill="#d4d4d4" /></g>
<g><rect x="682.9" y="626.0" width="23.4" height="20.5" fill="#f4f5f3" /><rect x="686.0" y="627.0" width="1.4" height="19.5" fill="#cfe9d2" /><rect x="690.0" y="627.0" width="1.4" height="19.5" fill="#d9d9d9" /><rect x="693.9" y="627.0" width="1.4" height="19.5" fill="#bfe3c6" /><rect x="697.8" y="627.0" width="1.4" height="19.5" fill="#dcdcdc" /><rect x="701.8" y="627.0" width="1.4" height="19.5" fill="#c9e6cf" /><rect x="681.9" y="646.5" width="25.4" height="31.7" fill="#e3e3e3" /><rect x="681.4" y="678.2" width="26.4" height="22.4" fill="#cbcbcb" /><rect x="689.5" y="658.7" width="10.2" height="19.6" fill="#cfcfcf" /><rect x="689.5" y="678.2" width="10.2" height="18.7" fill="#cfcfcf" /><rect x="689.5" y="658.7" width="10.2" height="1.9" fill="#b4b4b4" /><polygon points="680.9,676.4 687.6,678.2 689.3,696.9 683.8,700.6" fill="#b9b9b9" /><polygon points="708.3,676.4 701.6,678.2 699.9,696.9 705.4,700.6" fill="#b9b9b9" /><rect x="683.8" y="696.9" width="21.6" height="3.7" fill="#d6d6d6" /><rect x="684.9" y="700.6" width="19.3" height="18.7" fill="#c2c2c2" /><rect x="685.2" y="705.3" width="19.0" height="3.3" fill="#a6a6a6" /><rect x="685.2" y="711.8" width="19.0" height="3.3" fill="#a9a9a9" /><rect x="691.8" y="700.6" width="5.6" height="18.7" fill="#d4d4d4" /></g>
<g><rect x="772.6" y="555.1" width="21.5" height="18.9" fill="#f4f5f3" /><rect x="775.4" y="555.1" width="1.4" height="17.9" fill="#cfe9d2" /><rect x="779.1" y="555.1" width="1.4" height="17.9" fill="#d9d9d9" /><rect x="782.7" y="555.1" width="1.4" height="17.9" fill="#bfe3c6" /><rect x="786.3" y="555.1" width="1.4" height="17.9" fill="#dcdcdc" /><rect x="790.0" y="555.1" width="1.4" height="17.9" fill="#c9e6cf" /><rect x="771.7" y="525.8" width="23.4" height="29.2" fill="#e3e3e3" /><rect x="771.2" y="505.2" width="24.3" height="20.6" fill="#c4c4c4" /><rect x="778.7" y="525.8" width="9.4" height="18.1" fill="#cfcfcf" /><rect x="778.7" y="508.6" width="9.4" height="17.2" fill="#828282" /><rect x="778.7" y="542.2" width="9.4" height="1.7" fill="#b4b4b4" /><polygon points="770.8,527.6 777.0,525.8 778.5,508.6 773.5,505.2" fill="#a9a9a9" /><polygon points="796.0,527.6 789.8,525.8 788.3,508.6 793.3,505.2" fill="#a9a9a9" /><rect x="773.5" y="505.2" width="19.9" height="3.4" fill="#c9c9c9" /><rect x="774.5" y="488.0" width="17.8" height="17.2" fill="#a4a4a4" /><rect x="774.7" y="497.9" width="17.5" height="3.0" fill="#8a8a8a" /><rect x="774.7" y="491.9" width="17.5" height="3.0" fill="#8c8c8c" /><rect x="780.8" y="488.0" width="5.1" height="17.2" fill="#c6c6c6" /></g>
</g>
<g transform="translate(0,0)"><path d="M130.6,842 V864 Q130.6,878 148,881 L176,883.4" fill="none" stroke="#e4e4e4" stroke-width="3"/><path d="M147.4,844 V864 Q147.6,877 158,880.4 L176,883.4" fill="none" stroke="#e8e8e8" stroke-width="2.2"/><path d="M144.4,825 Q147.3,822.4 150.2,825 L149.4,845 H145.2 Z" fill="#e6e6e6"/><rect x="174.6" y="879.2" width="12" height="7.6" rx="1.6" fill="#f1f1f1" stroke="#d9d9d9" stroke-width="0.8"/><path d="M186.6,882.4 L195.5,884.6" stroke="#d4d4d4" stroke-width="1.6"/><rect x="128.2" y="794.5" width="4.8" height="22" fill="#d9d9d9"/><rect x="127.6" y="805" width="6" height="2" fill="#c4c4c4"/><rect x="124.4" y="816.4" width="12" height="19" rx="2" fill="#dedede"/><rect x="124" y="819.6" width="12.8" height="3" fill="#bcbcbc"/><rect x="124" y="826.4" width="12.8" height="2.4" fill="#c6c6c6"/><rect x="126.8" y="835" width="7.2" height="8.6" fill="#d2d2d2"/><rect x="126.8" y="838.4" width="7.2" height="1.5" fill="#bababa"/><ellipse cx="227.6" cy="883" rx="32.6" ry="35" fill="url(#gPlate)" transform="rotate(-10 227.6 883)"/><ellipse cx="229" cy="884.6" rx="29" ry="31" fill="#e4e4e6" transform="rotate(-10 229 884.6)"/><ellipse cx="232" cy="883" rx="19.5" ry="21.5" fill="#cfcfd2" transform="rotate(-10 232 883)"/><ellipse cx="234" cy="883" rx="16" ry="18" fill="#e2e2e4" transform="rotate(-10 234 883)"/><circle cx="229.6" cy="854.6" r="3.2" fill="#8a8a8d"/><circle cx="229.6" cy="854.6" r="1.5" fill="#606063"/><circle cx="208.2" cy="899.6" r="3.2" fill="#8a8a8d"/><circle cx="208.2" cy="899.6" r="1.5" fill="#606063"/><path d="M226,874 Q228,868 236,867 L256,864 L258,898 L240,902 Q230,903 227,896 Z" fill="url(#gNeck)"/><ellipse cx="238" cy="891" rx="6" ry="7" fill="#bfbfc3" opacity="0.7"/><path d="M243.5,890 C243.5,878 249,870 259,867.4 L282,865 C292,864.6 304,872 315,880 C326,888 336,897 342,902 C366,914 366,950 352,964 C340,975 310,976 296,968 L268,949 C254,938 244.5,926 244.3,912 Z" fill="url(#gBody)"/><path d="M259,867.4 C252,876 249,890 250,906 C251,920 258,934 270,945 L268,949 C254,938 244.5,926 244.3,912 L243.5,890 C243.5,878 249,870 259,867.4 Z" fill="#d6d6d9" opacity="0.8"/><path d="M282,865 C272,874 268,890 270,906 C272,922 280,938 292,950" fill="none" stroke="#dcdcdf" stroke-width="1.2"/><path d="M246,918 C252,934 262,944 274,953 L296,968 C300,970.4 306,972 312,973 C300,966 280,950 268,936 C260,927 252,918 246,918 Z" fill="#c9c9cd" opacity="0.85"/><path d="M269.6,909.4 L304.4,922.6 L302.4,926 L275.4,916.4 L272,919.6 L287.4,948 L285.4,951.4 L268,921 Z" fill="#bdbdc2"/><path d="M275.4,916.4 L302.4,926 C298,934 294,944 293,953 L287.4,948 L272,919.6 Z" fill="#e6e6e9"/><ellipse cx="326" cy="941.2" rx="33.3" ry="33" fill="#f3f3f5"/><ellipse cx="325.6" cy="940.6" rx="30" ry="30.4" fill="#dededf"/><path d="M303.6,924 C306,916.5 314,909.6 324.6,906.8 C330,905.2 335,904.7 339.4,904.9 C345,905.2 350,906.5 354.3,908.8 C359,911.5 363,915 366.1,919.7 C369,924 371,928 372.1,931.6 C372.7,936 372.5,940 371.6,945 L359.4,939.8 C359.8,936 359.4,933 358.4,929.6 C357.2,925.5 355.6,922 353.3,918.8 C351,915.8 348,914 344.4,912.8 L330,914 L306,926 Z" fill="#1e1e20"/><ellipse cx="325" cy="940.1" rx="26.6" ry="27.5" fill="#222325" transform="rotate(12 325 940.1)"/><circle cx="334.4" cy="920.8" r="8.2" fill="#6f6f71"/><circle cx="334.4" cy="920.8" r="6.4" fill="#a3a3a2"/><circle cx="334.9" cy="921.4" r="2.8" fill="#7b7b7a"/><circle cx="332.59999999999997" cy="918.8" r="2.1" fill="#e4e4de"/><circle cx="306.9" cy="934.6" r="7.4" fill="#6f6f71"/><circle cx="306.9" cy="934.6" r="5.8" fill="#a3a3a2"/><circle cx="307.4" cy="935.2" r="2.5" fill="#7b7b7a"/><circle cx="305.09999999999997" cy="932.6" r="1.9" fill="#e4e4de"/><circle cx="342" cy="945.4" r="7.4" fill="#6f6f71"/><circle cx="342" cy="945.4" r="5.8" fill="#a3a3a2"/><circle cx="342.5" cy="946.0" r="2.5" fill="#7b7b7a"/><circle cx="340.2" cy="943.4" r="1.9" fill="#e4e4de"/><circle cx="325" cy="939.6" r="11" fill="#58585a"/><circle cx="325" cy="939.6" r="8.4" fill="#8e8e8c"/><circle cx="325.4" cy="940" r="5.4" fill="#777775"/><circle cx="327" cy="939" r="2.4" fill="#3a3a3a"/><circle cx="322" cy="936.6" r="1.6" fill="#c4c4bf"/><circle cx="314.6" cy="959.3" r="4.4" fill="#5cc39a"/><circle cx="314.8" cy="959" r="2.6" fill="#c2f2dc"/><text x="287.2" y="906.6" font-size="6.6" font-weight="bold" fill="#2a2a32" transform="rotate(30 287.2 906.6)" textLength="20.5" lengthAdjust="spacingAndGlyphs">Hiseeu</text></g>
<g transform="translate(330,0)"><path d="M130.6,842 V864 Q130.6,878 148,881 L176,883.4" fill="none" stroke="#e4e4e4" stroke-width="3"/><path d="M147.4,844 V864 Q147.6,877 158,880.4 L176,883.4" fill="none" stroke="#e8e8e8" stroke-width="2.2"/><path d="M144.4,825 Q147.3,822.4 150.2,825 L149.4,845 H145.2 Z" fill="#e6e6e6"/><rect x="174.6" y="879.2" width="12" height="7.6" rx="1.6" fill="#f1f1f1" stroke="#d9d9d9" stroke-width="0.8"/><path d="M186.6,882.4 L195.5,884.6" stroke="#d4d4d4" stroke-width="1.6"/><rect x="128.2" y="794.5" width="4.8" height="22" fill="#d9d9d9"/><rect x="127.6" y="805" width="6" height="2" fill="#c4c4c4"/><rect x="124.4" y="816.4" width="12" height="19" rx="2" fill="#dedede"/><rect x="124" y="819.6" width="12.8" height="3" fill="#bcbcbc"/><rect x="124" y="826.4" width="12.8" height="2.4" fill="#c6c6c6"/><rect x="126.8" y="835" width="7.2" height="8.6" fill="#d2d2d2"/><rect x="126.8" y="838.4" width="7.2" height="1.5" fill="#bababa"/><ellipse cx="227.6" cy="883" rx="32.6" ry="35" fill="url(#gPlate)" transform="rotate(-10 227.6 883)"/><ellipse cx="229" cy="884.6" rx="29" ry="31" fill="#e4e4e6" transform="rotate(-10 229 884.6)"/><ellipse cx="232" cy="883" rx="19.5" ry="21.5" fill="#cfcfd2" transform="rotate(-10 232 883)"/><ellipse cx="234" cy="883" rx="16" ry="18" fill="#e2e2e4" transform="rotate(-10 234 883)"/><circle cx="229.6" cy="854.6" r="3.2" fill="#8a8a8d"/><circle cx="229.6" cy="854.6" r="1.5" fill="#606063"/><circle cx="208.2" cy="899.6" r="3.2" fill="#8a8a8d"/><circle cx="208.2" cy="899.6" r="1.5" fill="#606063"/><path d="M226,874 Q228,868 236,867 L256,864 L258,898 L240,902 Q230,903 227,896 Z" fill="url(#gNeck)"/><ellipse cx="238" cy="891" rx="6" ry="7" fill="#bfbfc3" opacity="0.7"/><path d="M243.5,890 C243.5,878 249,870 259,867.4 L282,865 C292,864.6 304,872 315,880 C326,888 336,897 342,902 C366,914 366,950 352,964 C340,975 310,976 296,968 L268,949 C254,938 244.5,926 244.3,912 Z" fill="url(#gBody)"/><path d="M259,867.4 C252,876 249,890 250,906 C251,920 258,934 270,945 L268,949 C254,938 244.5,926 244.3,912 L243.5,890 C243.5,878 249,870 259,867.4 Z" fill="#d6d6d9" opacity="0.8"/><path d="M282,865 C272,874 268,890 270,906 C272,922 280,938 292,950" fill="none" stroke="#dcdcdf" stroke-width="1.2"/><path d="M246,918 C252,934 262,944 274,953 L296,968 C300,970.4 306,972 312,973 C300,966 280,950 268,936 C260,927 252,918 246,918 Z" fill="#c9c9cd" opacity="0.85"/><path d="M269.6,909.4 L304.4,922.6 L302.4,926 L275.4,916.4 L272,919.6 L287.4,948 L285.4,951.4 L268,921 Z" fill="#bdbdc2"/><path d="M275.4,916.4 L302.4,926 C298,934 294,944 293,953 L287.4,948 L272,919.6 Z" fill="#e6e6e9"/><ellipse cx="326" cy="941.2" rx="33.3" ry="33" fill="#f3f3f5"/><ellipse cx="325.6" cy="940.6" rx="30" ry="30.4" fill="#dededf"/><path d="M303.6,924 C306,916.5 314,909.6 324.6,906.8 C330,905.2 335,904.7 339.4,904.9 C345,905.2 350,906.5 354.3,908.8 C359,911.5 363,915 366.1,919.7 C369,924 371,928 372.1,931.6 C372.7,936 372.5,940 371.6,945 L359.4,939.8 C359.8,936 359.4,933 358.4,929.6 C357.2,925.5 355.6,922 353.3,918.8 C351,915.8 348,914 344.4,912.8 L330,914 L306,926 Z" fill="#1e1e20"/><ellipse cx="325" cy="940.1" rx="26.6" ry="27.5" fill="#222325" transform="rotate(12 325 940.1)"/><circle cx="334.4" cy="920.8" r="8.2" fill="#6f6f71"/><circle cx="334.4" cy="920.8" r="6.4" fill="#a3a3a2"/><circle cx="334.9" cy="921.4" r="2.8" fill="#7b7b7a"/><circle cx="332.59999999999997" cy="918.8" r="2.1" fill="#e4e4de"/><circle cx="306.9" cy="934.6" r="7.4" fill="#6f6f71"/><circle cx="306.9" cy="934.6" r="5.8" fill="#a3a3a2"/><circle cx="307.4" cy="935.2" r="2.5" fill="#7b7b7a"/><circle cx="305.09999999999997" cy="932.6" r="1.9" fill="#e4e4de"/><circle cx="342" cy="945.4" r="7.4" fill="#6f6f71"/><circle cx="342" cy="945.4" r="5.8" fill="#a3a3a2"/><circle cx="342.5" cy="946.0" r="2.5" fill="#7b7b7a"/><circle cx="340.2" cy="943.4" r="1.9" fill="#e4e4de"/><circle cx="325" cy="939.6" r="11" fill="#58585a"/><circle cx="325" cy="939.6" r="8.4" fill="#8e8e8c"/><circle cx="325.4" cy="940" r="5.4" fill="#777775"/><circle cx="327" cy="939" r="2.4" fill="#3a3a3a"/><circle cx="322" cy="936.6" r="1.6" fill="#c4c4bf"/><circle cx="314.6" cy="959.3" r="4.4" fill="#5cc39a"/><circle cx="314.8" cy="959" r="2.6" fill="#c2f2dc"/><text x="287.2" y="906.6" font-size="6.6" font-weight="bold" fill="#2a2a32" transform="rotate(30 287.2 906.6)" textLength="20.5" lengthAdjust="spacingAndGlyphs">Hiseeu</text></g>
<text font-size="28" fill="#a22d35" stroke="#a22d35" stroke-width="0.4"><tspan x="177.6" y="826.5" textLength="50.1" lengthAdjust="spacingAndGlyphs">POE</tspan> <tspan x="235.6" y="826.5" textLength="95.4" lengthAdjust="spacingAndGlyphs">Camera</tspan></text>
<text font-size="28" fill="#a22d35" stroke="#a22d35" stroke-width="0.4"><tspan x="492.6" y="826.5" textLength="113.6" lengthAdjust="spacingAndGlyphs">Non-POE</tspan> <tspan x="613.6" y="826.5" textLength="95.4" lengthAdjust="spacingAndGlyphs">Camera</tspan></text>
</g>
</svg>
</body>
</html>
